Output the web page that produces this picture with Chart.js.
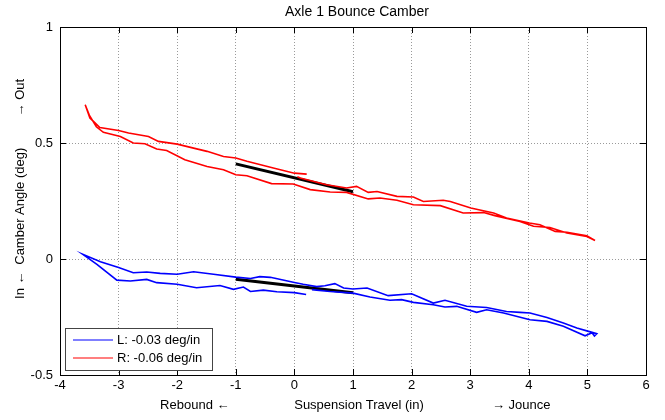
<!DOCTYPE html>
<html>
<head>
<meta charset="utf-8">
<script src="https://cdn.jsdelivr.net/npm/chart.js@4"></script>
<style>
  html, body { margin: 0; padding: 0; background: #fff; }
  #wrap { width: 665px; height: 420px; }
</style>
</head>
<body>
<div id="wrap"><canvas id="camberChart" width="665" height="420"></canvas></div>
<script>
const xTicks = [-4, -3, -2, -1, 0, 1, 2, 3, 4, 5, 6];
const yTicks = [-0.5, 0, 0.5, 1];

// right side (red), in sweep order
const rightX = [0.21, 0.0, -0.36, -0.81, -1.0, -1.21, -1.49, -1.72, -2.0, -2.32, -2.49, -2.83, -3.0, -3.32, -3.49, -3.57,
  -3.5, -3.38, -3.26, -2.97, -2.75, -2.55, -2.35, -2.18, -1.87, -1.49, -1.21, -1.0, -0.81, -0.39, -0.02, 0.27, 0.61, 0.89,
  1.26, 1.46, 1.75, 2.03, 2.49, 2.88, 3.23, 3.42, 3.85, 4.08, 4.36, 4.65, 4.99, 5.13,
  4.99, 4.65, 4.45, 4.19, 4.01, 3.62, 3.4, 3.01, 2.66, 2.54, 2.2, 2.03, 1.75, 1.41, 1.26, 1.06, 0.89, 0.55, 0.1, 0.05];
const rightY = [0.366, 0.37, 0.392, 0.421, 0.435, 0.442, 0.464, 0.478, 0.495, 0.507, 0.528, 0.543, 0.554, 0.567, 0.608, 0.665,
  0.62, 0.57, 0.546, 0.528, 0.5, 0.497, 0.474, 0.468, 0.428, 0.399, 0.385, 0.363, 0.359, 0.325, 0.323, 0.299, 0.289, 0.287,
  0.259, 0.263, 0.253, 0.234, 0.23, 0.198, 0.2, 0.187, 0.162, 0.141, 0.136, 0.112, 0.097, 0.08,
  0.1, 0.115, 0.119, 0.148, 0.155, 0.177, 0.198, 0.22, 0.248, 0.253, 0.248, 0.267, 0.27, 0.291, 0.287, 0.313, 0.306, 0.32, 0.349, 0.355];

// left side (blue), in sweep order
const leftX = [0.2, 0.0, -0.3, -0.53, -0.75, -0.87, -1.04, -1.27, -1.67, -2.0, -2.35, -2.52, -2.8, -3.03, -3.37, -3.61,
  -3.31, -3.0, -2.75, -2.52, -2.29, -2.0, -1.72, -1.38, -1.0, -0.75, -0.59, -0.41, 0.0, 0.15, 0.38, 0.52, 0.69, 0.84, 1.0,
  1.24, 1.6, 2.0, 2.37, 2.57, 2.94, 3.28, 3.62, 3.85, 4.02, 4.31, 4.59, 4.82, 5.02, 5.16, 5.12, 5.08,
  4.96, 4.59, 4.31, 4.02, 3.57, 3.28, 3.11, 2.77, 2.57, 2.37, 2.03, 1.83, 1.63, 1.29, 1.0, 0.61, 0.38, 0.3];
const leftY = [-0.153, -0.145, -0.141, -0.134, -0.14, -0.121, -0.131, -0.114, -0.124, -0.109, -0.102, -0.088, -0.095, -0.091, -0.023, 0.02,
  -0.012, -0.037, -0.059, -0.056, -0.062, -0.066, -0.055, -0.066, -0.078, -0.084, -0.076, -0.079, -0.101, -0.109, -0.119, -0.115, -0.106, -0.125, -0.129,
  -0.125, -0.158, -0.15, -0.19, -0.178, -0.204, -0.209, -0.226, -0.23, -0.233, -0.252, -0.276, -0.297, -0.312, -0.322, -0.332, -0.318,
  -0.331, -0.29, -0.269, -0.262, -0.233, -0.219, -0.23, -0.204, -0.207, -0.197, -0.187, -0.175, -0.178, -0.164, -0.147, -0.14, -0.134, -0.132];

// linear fits over -1..1 in
const fitX = [-1, 1];
const rightFitY = [0.41, 0.29];
const leftFitY = [-0.087, -0.145];

const legendLabels = ['L: -0.03 deg/in', 'R: -0.06 deg/in'];
const legendColors = ['#0000ff', '#ff0000'];

const pts = (xs, ys) => xs.map((x, i) => ({ x, y: ys[i] }));
const FONT = '"Liberation Sans", Arial, sans-serif';

const matlabBox = {
  id: 'matlabBox',
  afterDraw(chart) {
    const { ctx, chartArea: a, scales: { x, y } } = chart;
    ctx.save();
    ctx.strokeStyle = '#000';
    ctx.lineWidth = 1;
    ctx.strokeRect(Math.round(a.left) + 0.5, Math.round(a.top) + 0.5, Math.round(a.right - a.left), Math.round(a.bottom - a.top));
    ctx.beginPath();
    xTicks.forEach(v => {
      const px = Math.round(x.getPixelForValue(v)) + 0.5;
      ctx.moveTo(px, a.bottom); ctx.lineTo(px, a.bottom - 6);
      ctx.moveTo(px, a.top); ctx.lineTo(px, a.top + 6);
    });
    yTicks.forEach(v => {
      const py = Math.round(y.getPixelForValue(v)) + 0.5;
      ctx.moveTo(a.left, py); ctx.lineTo(a.left + 6, py);
      ctx.moveTo(a.right, py); ctx.lineTo(a.right - 6, py);
    });
    ctx.stroke();

    // title and axis texts
    ctx.fillStyle = '#000';
    ctx.textBaseline = 'middle';
    ctx.textAlign = 'center';
    ctx.font = '14px ' + FONT;
    const cx = (a.left + a.right) / 2;
    ctx.fillText('Axle 1 Bounce Camber', cx + 4, 12);
    ctx.font = '13px ' + FONT;
    const w = a.right - a.left;
    ctx.fillText('Rebound \u2190', a.left + w * 0.23, 405);
    ctx.fillText('Suspension Travel (in)', cx + 6, 405);
    ctx.fillText('\u2192 Jounce', a.left + w * 0.787, 405);
    const h = a.bottom - a.top;
    ctx.save();
    ctx.translate(20, 0);
    ctx.rotate(-Math.PI / 2);
    ctx.fillText('In \u2190', -(a.top + h * 0.742), 0);
    ctx.fillText('Camber Angle (deg)', -(a.top + h * 0.515), 0);
    ctx.fillText('\u2192 Out', -(a.top + h * 0.203), 0);
    ctx.restore();

    // legend box, lower left inside the axes
    const lx = a.left + 5, ly = a.bottom - 47, lw = 147, lh = 42;
    ctx.fillStyle = '#fff';
    ctx.fillRect(lx, ly, lw, lh);
    ctx.strokeStyle = '#444';
    ctx.strokeRect(lx + 0.5, ly + 0.5, lw, lh);
    ctx.textAlign = 'left';
    ctx.font = '13px ' + FONT;
    legendLabels.forEach((lab, i) => {
      const ry = ly + 12 + i * 18;
      ctx.strokeStyle = legendColors[i];
      ctx.lineWidth = 1.2;
      ctx.beginPath();
      ctx.moveTo(lx + 8, ry); ctx.lineTo(lx + 48, ry);
      ctx.stroke();
      ctx.fillStyle = '#000';
      ctx.fillText(lab, lx + 52, ry);
    });
    ctx.restore();
  }
};

new Chart(document.getElementById('camberChart'), {
  type: 'scatter',
  data: {
    datasets: [
      { label: legendLabels[0], data: pts(leftX, leftY), borderColor: '#0000ff', borderWidth: 1.6 },
      { label: legendLabels[1], data: pts(rightX, rightY), borderColor: '#ff0000', borderWidth: 1.6 },
      { label: 'L fit', data: pts(fitX, leftFitY), borderColor: '#000', borderWidth: 3 },
      { label: 'R fit', data: pts(fitX, rightFitY), borderColor: '#000', borderWidth: 3 }
    ].map(d => Object.assign(d, { showLine: true, pointRadius: 0, tension: 0, fill: false }))
  },
  options: {
    responsive: false,
    animation: false,
    layout: { padding: { left: 0, right: 19, top: 27, bottom: 0 } },
    plugins: { legend: { display: false }, title: { display: false }, tooltip: { enabled: false } },
    scales: {
      x: {
        type: 'linear', min: -4, max: 6,
        afterBuildTicks: s => { s.ticks = xTicks.map(v => ({ value: v })); },
        afterFit: s => { s.height = 45; },
        ticks: { color: '#000', font: { family: FONT, size: 13 }, padding: 3, maxRotation: 0, callback: v => String(v) },
        grid: { color: '#9a9a9a', lineWidth: 1, drawTicks: false },
        border: { display: false, dash: [1, 2] }
      },
      y: {
        type: 'linear', min: -0.5, max: 1,
        afterBuildTicks: s => { s.ticks = yTicks.map(v => ({ value: v })); },
        afterFit: s => { s.width = 60; },
        ticks: { color: '#000', font: { family: FONT, size: 13 }, padding: 7, callback: v => String(v) },
        grid: { color: '#9a9a9a', lineWidth: 1, drawTicks: false },
        border: { display: false, dash: [1, 2] }
      }
    }
  },
  plugins: [matlabBox]
});
</script>
</body>
</html>
